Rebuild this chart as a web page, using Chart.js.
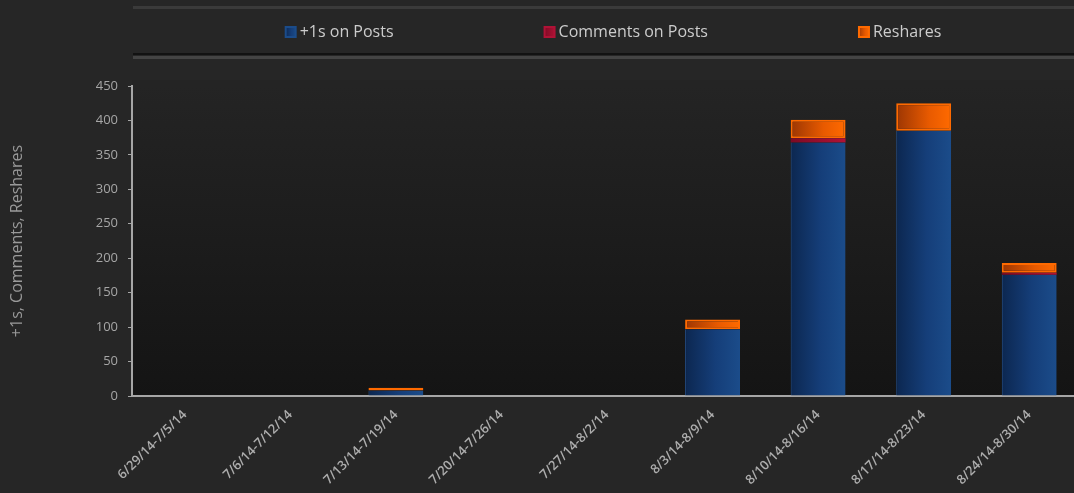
<!DOCTYPE html>
<html>
<head>
<meta charset="utf-8">
<script src="https://cdn.jsdelivr.net/npm/chart.js@4"></script>
<style>
  html, body { margin: 0; padding: 0; background: #262626; overflow: hidden; }
  #wrap { width: 1082px; height: 493px; }
</style>
</head>
<body>
<div id="wrap"><canvas id="chart" width="1082" height="493"></canvas></div>
<script>
const labels = [
    "6/29/14-7/5/14", "7/6/14-7/12/14", "7/13/14-7/19/14", "7/20/14-7/26/14",
    "7/27/14-8/2/14", "8/3/14-8/9/14", "8/10/14-8/16/14", "8/17/14-8/23/14", "8/24/14-8/30/14"
];
const plusOnes = [0, 0, 8, 0, 0, 97, 368, 385, 176];
const comments = [0, 0, 0, 0, 0, 0, 6, 0, 3];
const reshares = [0, 0, 4, 0, 0, 14, 27, 40, 14];
const yTicks = [0, 50, 100, 150, 200, 250, 300, 350, 400, 450];

const FONT = "'Open Sans', sans-serif";
const BAR_PCT = 0.52;

const BLUE_STOPS = [[0, "#0c2750"], [0.55, "#153e79"], [1, "#1b4c8a"]];
const RED_STOPS = [[0, "#7d0a24"], [1, "#b01236"]];
const ORANGE_STOPS = [[0, "#9c3603"], [0.6, "#e85a00"], [1, "#ff6a00"]];

function barGradient(stops) {
    return (ctx) => {
        const chart = ctx.chart;
        const xs = chart.scales.x;
        if (!chart.chartArea || !xs || ctx.dataIndex === undefined) return stops[stops.length - 1][1];
        const cx = xs.getPixelForValue(ctx.dataIndex);
        const half = xs.width / labels.length * BAR_PCT / 2;
        const g = chart.ctx.createLinearGradient(cx - half, 0, cx + half, 0);
        stops.forEach(([o, c]) => g.addColorStop(o, c));
        return g;
    };
}

const backdrop = {
    id: "backdrop",
    beforeDraw(chart) {
        const {ctx, chartArea: a, width, height} = chart;
        ctx.save();
        ctx.fillStyle = "#262626";
        ctx.fillRect(0, 0, width, height);

        const g = ctx.createLinearGradient(0, a.top, 0, a.bottom);
        g.addColorStop(0, "#242424");
        g.addColorStop(1, "#141414");
        ctx.fillStyle = g;
        ctx.fillRect(a.left, a.top - 6, a.right - a.left, a.bottom - a.top + 6);

        // legend band lines
        ctx.fillStyle = "#3a3a3a";
        ctx.fillRect(133, 6, width - 133, 3);
        ctx.fillStyle = "#121212";
        ctx.fillRect(133, 53, width - 133, 2);
        ctx.fillStyle = "#444444";
        ctx.fillRect(133, 56, width - 133, 3);

        // legend
        ctx.font = "16px " + FONT;
        ctx.textBaseline = "middle";
        const items = chart.data.datasets.map(ds => ({text: ds.label, stops: ds.legendStops}));
        const gap = 150, box = 12, pad = 3;
        const widths = items.map(it => box + pad + ctx.measureText(it.text).width);
        const total = widths.reduce((s, w) => s + w, 0) + gap * (items.length - 1);
        let x = 613 - total / 2;
        items.forEach((it, i) => {
            const lg = ctx.createLinearGradient(x, 0, x + box, 0);
            it.stops.forEach(([o, c]) => lg.addColorStop(o, c));
            ctx.fillStyle = it.stops[it.stops.length - 1][1];
            ctx.fillRect(x, 26, box, box);
            ctx.fillStyle = lg;
            ctx.fillRect(x + 2, 28, box - 4, box - 4);
            ctx.fillStyle = "#cccccc";
            ctx.fillText(it.text, x + box + pad, 32);
            x += widths[i] + gap;
        });
        ctx.restore();
    }
};

new Chart(document.getElementById("chart"), {
    type: "bar",
    data: {
        labels: labels,
        datasets: [
            {
                label: "+1s on Posts",
                data: plusOnes,
                backgroundColor: barGradient(BLUE_STOPS),
                borderColor: "#24508e",
                borderWidth: {left: 1, right: 0, top: 0, bottom: 0},
                legendStops: BLUE_STOPS
            },
            {
                label: "Comments on Posts",
                data: comments,
                backgroundColor: barGradient(RED_STOPS),
                borderWidth: 0,
                legendStops: RED_STOPS
            },
            {
                label: "Reshares",
                data: reshares,
                backgroundColor: barGradient(ORANGE_STOPS),
                borderColor: "#ff6a00",
                borderWidth: 2,
                borderSkipped: false,
                legendStops: ORANGE_STOPS
            }
        ]
    },
    options: {
        responsive: false,
        animation: false,
        layout: {padding: {top: 86, left: 0, right: 0, bottom: 0}},
        datasets: {bar: {categoryPercentage: 1, barPercentage: BAR_PCT}},
        plugins: {legend: {display: false}, tooltip: {enabled: false}},
        scales: {
            x: {
                stacked: true,
                grid: {display: false, drawTicks: false},
                border: {display: true, color: "#a6a6a6", width: 2},
                ticks: {
                    color: "#adadad",
                    font: {family: FONT, size: 13, weight: "600"},
                    minRotation: 45,
                    maxRotation: 45,
                    padding: 11,
                    autoSkip: false
                },
                afterFit(scale) { scale.height = 97; }
            },
            y: {
                stacked: true,
                min: 0,
                max: 450,
                afterBuildTicks(scale) { scale.ticks = yTicks.map(v => ({value: v})); },
                grid: {drawOnChartArea: false, drawTicks: true, tickLength: 4, color: "#a6a6a6"},
                border: {display: true, color: "#a6a6a6", width: 2},
                ticks: {color: "#a6a6a6", font: {family: FONT, size: 13}, padding: 10},
                title: {
                    display: true,
                    text: "+1s, Comments, Reshares",
                    color: "#9a9a9a",
                    font: {family: FONT, size: 16},
                    padding: {top: 8}
                },
                afterFit(scale) { scale.width = 132; }
            }
        }
    },
    plugins: [backdrop]
});
</script>
</body>
</html>
